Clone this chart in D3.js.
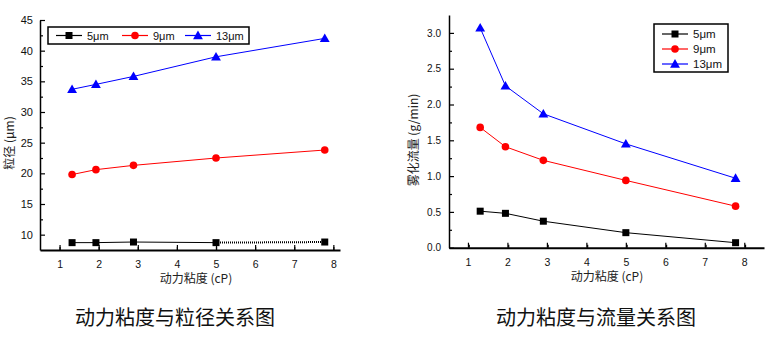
<!DOCTYPE html>
<html><head><meta charset="utf-8">
<script src="https://cdn.jsdelivr.net/npm/d3@7"></script>
<style>body{margin:0;background:#fff}svg{display:block}</style>
</head><body>
<svg id="c" width="784" height="338"></svg>
<script>
// ---- data ----
const viscosity = [1.32, 1.93, 2.89, 5.0, 7.78];
const seriesNames = ["5μm", "9μm", "13μm"];
const seriesColors = ["#000000", "#ff0000", "#0000ff"];
const sizeSeries = [
  [8.7, 8.7, 8.8, 8.7, 8.8],
  [19.8, 20.6, 21.3, 22.5, 23.8],
  [33.7, 34.5, 35.8, 39.0, 42.0]
];
const flowX = [1.31, 1.95, 2.91, 5.0, 7.78];
const flowSeries = [
  [0.51, 0.48, 0.37, 0.21, 0.07],
  [1.68, 1.41, 1.22, 0.94, 0.58],
  [3.07, 2.26, 1.87, 1.45, 0.97]
];
const xTicks = [1, 2, 3, 4, 5, 6, 7, 8];
const leftYTicks = [10, 15, 20, 25, 30, 35, 40, 45];
const rightYTicks = [0.0, 0.5, 1.0, 1.5, 2.0, 2.5, 3.0];
const xTitle = "动力粘度 (cP)";
const leftYTitle = "粒径 (μm)";
const rightYTitle = "雾化流量 (g/min)";
const captions = ["动力粘度与粒径关系图", "动力粘度与流量关系图"];

const svg = d3.select("#c");
const tickFont = "'Liberation Sans', Arial, sans-serif";
const cjkFont = "'Noto Sans CJK SC', sans-serif";

function marker(g, type, x, y, color) {
  if (type === 0) g.append("rect").attr("x", x - 3.5).attr("y", y - 3.5).attr("width", 7).attr("height", 7).attr("fill", color);
  else if (type === 1) g.append("circle").attr("cx", x).attr("cy", y).attr("r", 3.8).attr("fill", color);
  else g.append("path").attr("d", d3.symbol(d3.symbolTriangle, 42)()).attr("transform", `translate(${x},${y + 0.8})`).attr("fill", color);
}

function drawChart(opt) {
  const g = svg.append("g");
  const x = d3.scaleLinear().domain(opt.xDom).range([opt.left, opt.right]);
  const y = d3.scaleLinear().domain(opt.yDom).range([opt.bottom, opt.top]);

  // minor ticks
  const xMinor = d3.range(opt.xDom[0] + 0.5, opt.xDom[1] + 0.001, 1).filter(v => v > opt.xDom[0]);
  g.append("g").attr("transform", `translate(0,${opt.bottom})`)
    .call(d3.axisBottom(x).tickValues(xMinor).tickSize(-3).tickFormat(""))
    .call(a => a.select(".domain").remove())
    .selectAll("line").attr("stroke", "#000").attr("stroke-width", 1.2);
  g.append("g").attr("transform", `translate(${opt.left},0)`)
    .call(d3.axisLeft(y).tickValues(opt.yMinor).tickSize(-3).tickFormat(""))
    .call(a => a.select(".domain").remove())
    .selectAll("line").attr("stroke", "#000").attr("stroke-width", 1.2);

  // major axes
  const xa = g.append("g").attr("transform", `translate(0,${opt.bottom})`)
    .call(d3.axisBottom(x).tickValues(xTicks).tickSizeInner(-5).tickSizeOuter(0).tickPadding(11).tickFormat(d3.format("d")));
  xa.select(".domain").attr("stroke", "#000").attr("stroke-width", 2);
  xa.selectAll("line").attr("stroke", "#000").attr("stroke-width", 1.2);
  xa.selectAll("text").attr("font-family", tickFont).attr("font-size", 10.5).attr("fill", "#111");

  const ya = g.append("g").attr("transform", `translate(${opt.left},0)`)
    .call(d3.axisLeft(y).tickValues(opt.yTicks).tickSizeInner(-5).tickSizeOuter(0).tickPadding(opt.yPad).tickFormat(d3.format(opt.yFmt)));
  ya.select(".domain").attr("stroke", "#000").attr("stroke-width", 1.5);
  ya.selectAll("line").attr("stroke", "#000").attr("stroke-width", 1.2);
  ya.selectAll("text").attr("font-family", tickFont).attr("font-size", opt.yFs).attr("fill", "#111");

  // series
  opt.series.forEach((vals, i) => {
    const pts = vals.map((v, j) => [x(opt.xs[j]), y(v)]);
    const line = d3.line();
    if (opt.dottedLast && i === 0) {
      g.append("path").attr("d", line(pts.slice(0, 4))).attr("fill", "none").attr("stroke", seriesColors[i]).attr("stroke-width", 1);
      g.append("path").attr("d", line(pts.slice(3))).attr("fill", "none").attr("stroke", seriesColors[i]).attr("stroke-width", 2).attr("stroke-dasharray", "1,1");
    } else {
      g.append("path").attr("d", line(pts)).attr("fill", "none").attr("stroke", seriesColors[i]).attr("stroke-width", 1);
    }
    pts.forEach(p => marker(g, i, p[0], p[1], seriesColors[i]));
  });

  // axis titles
  g.append("text").attr("x", opt.xTitlePos[0]).attr("y", opt.xTitlePos[1]).attr("text-anchor", "middle")
    .attr("font-family", cjkFont).attr("font-size", 12).attr("fill", "#222").text(xTitle);
  g.append("text").attr("transform", `translate(${opt.yTitlePos[0]},${opt.yTitlePos[1]}) rotate(-90)`).attr("text-anchor", "middle")
    .attr("font-family", cjkFont).attr("font-size", 12).attr("fill", "#222").text(opt.yTitle);

  // legend
  const lg = g.append("g");
  lg.append("rect").attr("x", opt.legend.x).attr("y", opt.legend.y).attr("width", opt.legend.w).attr("height", opt.legend.h)
    .attr("fill", "#fff").attr("stroke", "#000").attr("stroke-width", 1.5);
  seriesNames.forEach((name, i) => {
    const ex = opt.legend.horizontal ? opt.legend.starts[i] : opt.legend.x + 8;
    const ey = opt.legend.horizontal ? opt.legend.y + opt.legend.h / 2 : opt.legend.y + 10 + opt.legend.step * i;
    lg.append("line").attr("x1", ex).attr("x2", ex + 26).attr("y1", ey).attr("y2", ey).attr("stroke", seriesColors[i]).attr("stroke-width", 1.2);
    marker(lg, i, ex + 13, ey, seriesColors[i]);
    lg.append("text").attr("x", ex + 31).attr("y", ey + 4).attr("font-family", tickFont).attr("font-size", opt.legend.fs).attr("fill", "#111").text(name);
  });
}

drawChart({
  xDom: [0.5, 8.17], yDom: [7.5, 45], left: 40, right: 340, top: 20, bottom: 250,
  yTicks: leftYTicks, yMinor: d3.range(12.5, 45, 5), yFmt: "d", yPad: 7, yFs: 11,
  xs: viscosity, series: sizeSeries, dottedLast: true,
  xTitlePos: [196, 283], yTitle: leftYTitle, yTitlePos: [14, 143],
  legend: { x: 48, y: 27, w: 201, h: 17, horizontal: true, starts: [56, 122, 185], fs: 11 }
});
drawChart({
  xDom: [0.52, 8.5], yDom: [0, 3.25], left: 449, right: 764, top: 15, bottom: 247.7,
  yTicks: rightYTicks, yMinor: d3.range(0.25, 3.25, 0.5), yFmt: ".1f", yPad: 8, yFs: 10,
  xs: flowX, series: flowSeries, dottedLast: false,
  xTitlePos: [607, 281], yTitle: rightYTitle, yTitlePos: [418, 140],
  legend: { x: 654, y: 24, w: 74, h: 48, horizontal: false, step: 15, fs: 11.5 }
});

captions.forEach((t, i) => {
  svg.append("text").attr("x", i === 0 ? 175 : 596).attr("y", 325).attr("text-anchor", "middle")
    .attr("font-family", cjkFont).attr("font-size", 20).attr("fill", "#111").text(t);
});
</script>
</body></html>
